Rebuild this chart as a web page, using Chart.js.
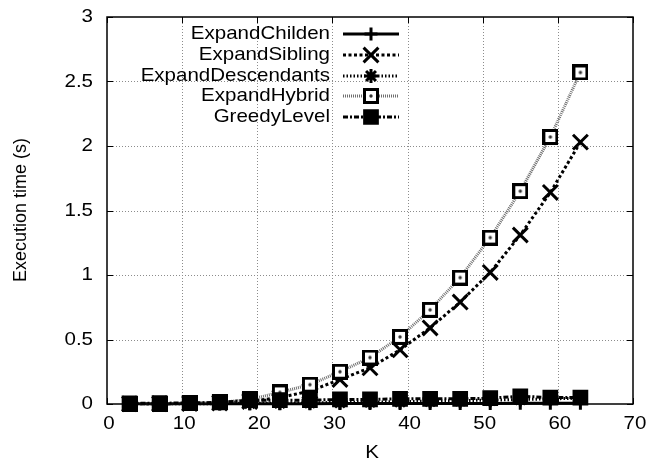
<!DOCTYPE html>
<html>
<head>
<meta charset="utf-8">
<script src="https://cdn.jsdelivr.net/npm/chart.js@4/dist/chart.umd.min.js"></script>
<style>
  html, body { margin: 0; padding: 0; background: #fff; }
  canvas { display: block; }
</style>
</head>
<body>
<canvas id="c" width="649" height="466"></canvas>
<script>
// Execution time (s) of each expansion strategy against K
const K = [3, 7, 11, 15, 19, 23, 27, 31, 35, 39, 43, 47, 51, 55, 59, 63];
const expandChilden     = [0.001, 0.001, 0.001, 0.001, 0.002, 0.002, 0.002, 0.003, 0.003, 0.003, 0.004, 0.004, 0.004, 0.005, 0.005, 0.005];
const expandSibling     = [0.001, 0.002, 0.004, 0.008, 0.02, 0.05, 0.1, 0.19, 0.28, 0.42, 0.59, 0.79, 1.02, 1.31, 1.64, 2.03];
const expandDescendants = [0.001, 0.001, 0.002, 0.003, 0.005, 0.007, 0.009, 0.012, 0.015, 0.018, 0.022, 0.026, 0.03, 0.035, 0.04, 0.045];
const expandHybrid      = [0.001, 0.003, 0.006, 0.012, 0.035, 0.09, 0.15, 0.25, 0.36, 0.52, 0.73, 0.98, 1.29, 1.65, 2.07, 2.57];
const greedyLevel       = [0.005, 0.006, 0.008, 0.012, 0.03, 0.03, 0.03, 0.035, 0.035, 0.04, 0.04, 0.04, 0.045, 0.06, 0.05, 0.05];

const seriesNames = ['ExpandChilden', 'ExpandSibling', 'ExpandDescendants', 'ExpandHybrid', 'GreedyLevel'];
const xTicks = [0, 10, 20, 30, 40, 50, 60, 70];
const yTicks = [0, 0.5, 1, 1.5, 2, 2.5, 3];
const xTitle = 'K';
const yTitle = 'Execution time (s)';

const FONT = '"Liberation Sans", Arial, Helvetica, sans-serif';
const TEXT_SX = 1.08;   // slightly wide lettering used throughout the figure

// boxed-dot marker
function boxDot() {
  const c = document.createElement('canvas');
  c.width = 16; c.height = 16;
  const g = c.getContext('2d');
  g.fillStyle = '#fff';
  g.fillRect(1.5, 1.5, 13, 13);
  g.strokeStyle = '#000';
  g.lineWidth = 3;
  g.strokeRect(1.5, 1.5, 13, 13);
  g.fillStyle = '#333';
  g.beginPath(); g.arc(8, 8, 1.7, 0, Math.PI * 2); g.fill();
  return c;
}

const pts = arr => K.map((k, i) => ({ x: k, y: arr[i] }));

const styles = [
  { data: expandChilden,     dash: [],           color: '#000', pointStyle: 'cross',    radius: 6.5, fill: '#000', order: 5 },
  { data: expandSibling,     dash: [3, 2.5],     color: '#000', pointStyle: 'crossRot', radius: 10.5, fill: '#000', order: 4 },
  { data: expandDescendants, dash: [1.5, 2],     color: '#000', pointStyle: 'star',     radius: 7,   fill: '#000', order: 3 },
  { data: expandHybrid,      dash: [1, 1],       color: '#6f6f6f', pointStyle: boxDot(), radius: 8, fill: '#fff', order: 2 },
  { data: greedyLevel,       dash: [5, 2, 2, 2], color: '#000', pointStyle: 'rect',     radius: 9,   fill: '#000', order: 1 }
];

const datasets = styles.map((s, i) => ({
  label: seriesNames[i],
  data: pts(s.data),
  borderColor: s.color,
  borderWidth: 3,
  borderDash: s.dash,
  pointStyle: s.pointStyle,
  pointRadius: s.radius,
  pointHoverRadius: s.radius,
  pointBorderColor: '#000',
  pointBackgroundColor: s.fill,
  pointBorderWidth: 3,
  tension: 0,
  fill: false,
  clip: false,
  order: s.order
}));

function wideText(ctx, text, x, y, align, sx) {
  ctx.save();
  ctx.translate(x, y);
  ctx.scale(sx, 1);
  ctx.textAlign = align;
  ctx.textBaseline = 'middle';
  ctx.fillText(text, 0, 0);
  ctx.restore();
}

const framePlugin = {
  id: 'frame',
  beforeDatasetsDraw(chart) {
    const { ctx, chartArea: a, scales: { x, y } } = chart;
    ctx.save();
    ctx.strokeStyle = '#8c8c8c';
    ctx.lineWidth = 1;
    ctx.setLineDash([1, 2]);
    xTicks.forEach(v => {
      const px = Math.round(x.getPixelForValue(v)) + 0.5;
      if (px <= a.left + 1 || px >= a.right - 1) return;
      ctx.beginPath(); ctx.moveTo(px, a.top); ctx.lineTo(px, a.bottom); ctx.stroke();
    });
    yTicks.forEach(v => {
      const py = Math.round(y.getPixelForValue(v)) + 0.5;
      if (py <= a.top + 1 || py >= a.bottom - 1) return;
      ctx.beginPath(); ctx.moveTo(a.left, py); ctx.lineTo(a.right, py); ctx.stroke();
    });
    ctx.restore();
  },
  afterDatasetsDraw(chart) {
    const { ctx, chartArea: a, scales: { x, y } } = chart;
    ctx.save();
    // frame
    ctx.setLineDash([]);
    ctx.strokeStyle = '#000';
    ctx.lineWidth = 1.5;
    ctx.strokeRect(a.left, a.top, a.right - a.left, a.bottom - a.top);
    // inward ticks on all four sides
    const tl = 6;
    ctx.lineWidth = 1;
    xTicks.forEach(v => {
      const px = Math.round(x.getPixelForValue(v)) + 0.5;
      ctx.beginPath();
      ctx.moveTo(px, a.bottom); ctx.lineTo(px, a.bottom - tl);
      ctx.moveTo(px, a.top); ctx.lineTo(px, a.top + tl);
      ctx.stroke();
    });
    yTicks.forEach(v => {
      const py = Math.round(y.getPixelForValue(v)) + 0.5;
      ctx.beginPath();
      ctx.moveTo(a.left, py); ctx.lineTo(a.left + tl, py);
      ctx.moveTo(a.right, py); ctx.lineTo(a.right - tl, py);
      ctx.stroke();
    });
    // tick labels
    ctx.fillStyle = '#000';
    ctx.font = '19px ' + FONT;
    xTicks.forEach(v => wideText(ctx, String(v), x.getPixelForValue(v) + 2, 424, 'center', TEXT_SX));
    yTicks.forEach(v => wideText(ctx, String(v), 93, y.getPixelForValue(v), 'right', TEXT_SX));
    // axis titles
    wideText(ctx, xTitle, (a.left + a.right) / 2 + 2, 453, 'center', TEXT_SX);
    ctx.save();
    ctx.font = '18px ' + FONT;
    ctx.translate(21, 210);
    ctx.rotate(-Math.PI / 2);
    ctx.textAlign = 'center';
    ctx.textBaseline = 'middle';
    ctx.fillText(yTitle, 0, 0);
    ctx.restore();
    // key
    const rowY = [34, 55, 76, 96, 117];
    chart.data.datasets.forEach((ds, i) => {
      const ry = rowY[i];
      ctx.fillStyle = '#000';
      wideText(ctx, ds.label, 330, ry, 'right', TEXT_SX);
      ctx.save();
      ctx.strokeStyle = ds.borderColor;
      ctx.lineWidth = ds.borderWidth;
      ctx.setLineDash(ds.borderDash);
      ctx.beginPath(); ctx.moveTo(343, ry); ctx.lineTo(399, ry); ctx.stroke();
      ctx.setLineDash([]);
      ctx.strokeStyle = '#000';
      ctx.fillStyle = ds.pointBackgroundColor;
      ctx.lineWidth = ds.pointBorderWidth;
      Chart.helpers.drawPoint(ctx, { pointStyle: ds.pointStyle, radius: ds.pointRadius, rotation: 0, borderWidth: ds.pointBorderWidth }, 371, ry);
      ctx.restore();
    });
    ctx.restore();
  }
};

new Chart(document.getElementById('c'), {
  type: 'line',
  data: { datasets },
  options: {
    responsive: false,
    animation: false,
    events: [],
    layout: { padding: { top: 17, right: 16, left: 0, bottom: 0 } },
    plugins: { legend: { display: false }, tooltip: { enabled: false } },
    scales: {
      x: {
        type: 'linear', min: 0, max: 70,
        ticks: { display: false, stepSize: 10 },
        grid: { display: false },
        border: { display: false },
        afterFit(s) { s.height = 62; }
      },
      y: {
        type: 'linear', min: 0, max: 3,
        ticks: { display: false, stepSize: 0.5 },
        grid: { display: false },
        border: { display: false },
        afterFit(s) { s.width = 107; }
      }
    }
  },
  plugins: [framePlugin]
});
</script>
</body>
</html>
